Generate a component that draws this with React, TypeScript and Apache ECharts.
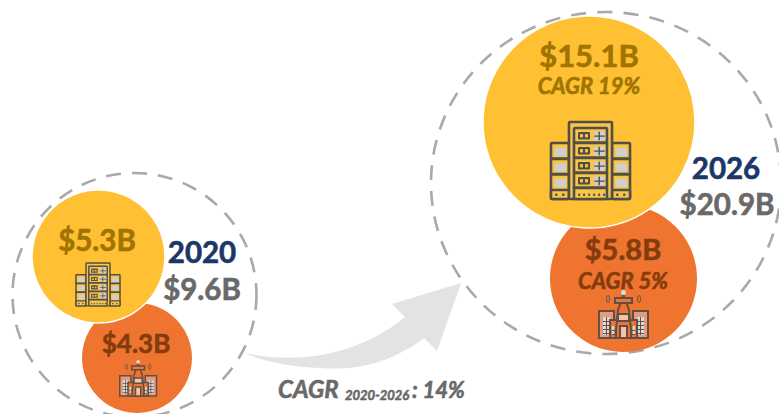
import React, { useEffect, useRef } from "react";
import * as echarts from "echarts";

const years = ["2020", "2026"];
const totals = ["$9.6B", "$20.9B"];
const dataCenter = [5.3, 15.1];
const telecom = [4.3, 5.8];
const growth = ["CAGR 19%", "CAGR 5%"];
const overallLabel = ["CAGR", "2020-2026", ": 14%"];

const YELLOW = "#FFC133";
const ORANGE = "#EE7430";
const DARK_Y = "#A07400";
const DARK_O = "#843C0C";
const NAVY = "#1B3668";
const GREY = "#696969";
const FONT = "Lato, 'Open Sans', sans-serif";

const ARROW =
  "M245 353 C285 362 350 362 405 317 L392 304 L461 283 L437 351 L424 338 C385 368 345 370 320 368 C290 367 262 361 245 353 Z";
echarts.graphic.registerShape("growthArrow", echarts.graphic.extendPath(ARROW, {}) as any);

const fmt = (v: number) => `$${v.toFixed(1)}B`;

function txt(text: string, x: number, y: number, size: number, fill: string, italic = false, align = "center"): any {
  return {
    type: "text",
    x,
    y,
    z: 20,
    style: {
      text,
      fill,
      stroke: fill,
      lineWidth: 0.6,
      font: `${italic ? "italic " : ""}bold ${size}px ${FONT}`,
      textAlign: align,
      textVerticalAlign: "middle",
    },
  };
}

function serverIcon(x: number, y: number, s: number, fill: string): any {
  const ink = "#524E48";
  const screen = "#CFCFCF";
  const lw = 2.6;
  const children: any[] = [];
  const rect = (a: number, b: number, w: number, h: number, f: string, stroke = true) =>
    children.push({
      type: "rect",
      z: 15,
      shape: { x: a, y: b, width: w, height: h, r: 1 },
      style: { fill: f, stroke: stroke ? ink : undefined, lineWidth: lw },
    });
  for (const sx of [0, 61]) {
    rect(sx, 21, 18, 56, fill);
    for (const r of [0, 1, 2]) {
      if (r > 0) rect(sx, 21 + r * 15.5, 18, 0.5, ink);
      rect(sx + 4, 26 + r * 15.5, 11, 8, screen, false);
    }
    rect(sx, 68, 18, 9, fill);
    rect(sx + 4, 71.5, 2.5, 2.5, ink, false);
    rect(sx + 11, 71.5, 2.5, 2.5, ink, false);
  }
  rect(18, 0, 43, 77, fill);
  rect(23, 6, 33, 71, fill);
  for (const r of [0, 1, 2, 3]) {
    rect(23, 20.5 + r * 15, 33, 0.5, ink);
    rect(27, 10 + r * 15, 12, 7.5, ink, false);
    rect(29, 12 + r * 15, 3, 3.5, "#F5C34A", false);
    rect(34, 12 + r * 15, 3, 3.5, "#F5C34A", false);
    rect(43, 9.5 + r * 15, 11, 9, screen, false);
    rect(47.5, 9.5 + r * 15, 1.4, 9, ink, false);
    rect(43, 13.5 + r * 15, 11, 1.2, ink, false);
  }
  for (const i of [0, 1, 2, 3, 4, 5]) rect(27 + i * 5, 71.5, 2.2, 2.5, ink, false);
  return { type: "group", x, y, scaleX: s, scaleY: s, children };
}

function towerIcon(x: number, y: number, s: number, fill: string): any {
  const ink = "#5E5048";
  const screen = "#DADADA";
  const lw = 2;
  const children: any[] = [];
  const rect = (a: number, b: number, w: number, h: number, f: string, stroke = true) =>
    children.push({
      type: "rect",
      z: 15,
      shape: { x: a, y: b, width: w, height: h },
      style: { fill: f, stroke: stroke ? ink : undefined, lineWidth: lw },
    });
  const windows = (a: number, b: number, w: number, h: number) => {
    rect(a, b, w, h, screen, false);
    rect(a + w / 2 - 0.5, b, 1, h, ink, false);
    for (let yy = b + 4; yy < b + h; yy += 4) rect(a, yy, w, 1, ink, false);
  };
  rect(1, 21, 15, 27, "#E8997A");
  rect(35, 21, 15, 27, "#E8997A");
  windows(5, 27, 7, 18);
  windows(39, 27, 7, 18);
  rect(12, 30, 10, 18, fill);
  rect(29, 30, 10, 18, fill);
  windows(14, 36, 6, 9);
  windows(31, 36, 6, 9);
  children.push({
    type: "polygon",
    z: 15,
    shape: { points: [[25.5, 5], [31, 20], [33, 40], [33, 48], [18, 48], [18, 40], [20, 20]] },
    style: { fill, stroke: ink, lineWidth: lw },
  });
  rect(17, 8, 17, 5, fill);
  rect(20, 24, 11, 7, "#F2C3A5");
  rect(22, 36, 7, 12, "#F2C3A5");
  children.push({ type: "circle", z: 15, shape: { cx: 25.5, cy: 2.5, r: 2.5 }, style: { fill: screen } });
  for (const d of [[10, 9], [41, 9]]) {
    children.push({
      type: "ellipse",
      z: 15,
      shape: { cx: d[0], cy: d[1], rx: 1.5, ry: 3.5 },
      style: { fill: "none", stroke: ink, lineWidth: 1 },
    });
  }
  return { type: "group", x, y, scaleX: s, scaleY: s, children };
}

export default function App() {
  const ref = useRef<HTMLDivElement>(null);

  useEffect(() => {
    document.body.style.margin = "0";
    const chart = echarts.init(ref.current!, null, { renderer: "svg" });

    const dashed = (c: number[], size: number[]) => ({
      value: c,
      symbolSize: size,
    });

    chart.setOption({
      animation: false,
      grid: { left: 0, right: 0, top: 0, bottom: 0 },
      xAxis: { type: "value", min: 0, max: 779, show: false },
      yAxis: { type: "value", min: 0, max: 414, inverse: true, show: false },
      series: [
        {
          type: "scatter",
          name: "Total",
          silent: true,
          z: 1,
          clip: false,
          symbol: "circle",
          itemStyle: { color: "transparent", borderColor: "#A9A9A9", borderWidth: 2.6, borderType: [15, 11], opacity: 1 },
          data: [dashed([134.5, 295], [244, 244]), dashed([606, 183], [350, 342])],
        },
        {
          type: "scatter",
          name: "Telecom",
          silent: true,
          z: 2,
          symbol: "circle",
          itemStyle: { color: ORANGE, opacity: 1 },
          data: [
            { name: years[0], value: [137, 358], symbolSize: 110, raw: telecom[0] },
            { name: years[1], value: [623.5, 278.5], symbolSize: 147, raw: telecom[1] },
          ],
        },
        {
          type: "scatter",
          name: "Data center",
          silent: true,
          z: 3,
          symbol: "circle",
          itemStyle: { color: YELLOW, borderColor: "#fff", borderWidth: 1.5, opacity: 1 },
          data: [
            { name: years[0], value: [98.5, 256.5], symbolSize: 133, raw: dataCenter[0] },
            { name: years[1], value: [589, 122], symbolSize: 212, raw: dataCenter[1] },
          ],
        },
      ],
      graphic: {
        elements: [
          { type: "growthArrow", x: 0, y: 0, z: 5, style: { fill: "#E3E3E3" } },
          txt(fmt(dataCenter[0]), 97, 239, 29.5, DARK_Y),
          txt(fmt(telecom[0]), 136, 343, 26, DARK_O),
          txt(years[0], 202, 251, 29.5, NAVY),
          txt(totals[0], 202, 288, 29.5, GREY),
          txt(fmt(dataCenter[1]), 589, 55, 31, DARK_Y),
          txt(growth[0], 589, 85, 22, DARK_Y, true),
          txt(fmt(telecom[1]), 623, 248, 29, DARK_O),
          txt(growth[1], 623, 280, 22, DARK_O, true),
          txt(years[1], 726, 167, 29.5, NAVY),
          txt(totals[1], 727, 203, 29.5, GREY),
          txt(overallLabel[0], 278, 388, 24, GREY, true, "left"),
          txt(overallLabel[1], 345, 395, 13, GREY, true, "left"),
          txt(overallLabel[2], 412, 389, 22, GREY, true, "left"),
          serverIcon(551, 122, 1, "#F7C548"),
          serverIcon(76, 263, 0.557, "#F7C548"),
          towerIcon(598, 290, 1, ORANGE),
          towerIcon(119, 360, 0.75, ORANGE),
        ],
      },
    });
    return () => chart.dispose();
  }, []);

  return <div ref={ref} style={{ width: 779, height: 414, background: "#fff" }} />;
}
